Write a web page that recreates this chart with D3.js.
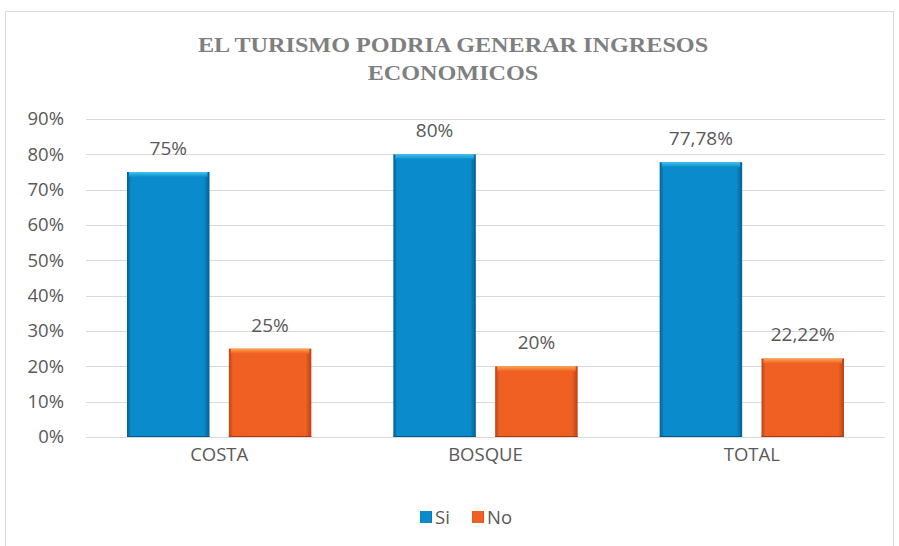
<!DOCTYPE html>
<html>
<head>
<meta charset="utf-8">
<script src="https://cdn.jsdelivr.net/npm/d3@7"></script>
<style>
  body { margin: 0; background: #fff; }
  svg { display: block; }
</style>
</head>
<body>
<div id="chart"></div>
<script>
// chart values
var categories = ['COSTA', 'BOSQUE', 'TOTAL'];
var series = ['Si', 'No'];
var siValues = [75, 80, 77.78];
var noValues = [25, 20, 22.22];
var valueLabels = [['75%', '25%'], ['80%', '20%'], ['77,78%', '22,22%']];
var yTicks = [0, 10, 20, 30, 40, 50, 60, 70, 80, 90];
var titleLines = ['EL TURISMO PODRIA GENERAR INGRESOS', 'ECONOMICOS'];

var W = 899, H = 546;
var margins = {top: 119, right: 14, bottom: 109, left: 86};
var width = W - margins.left - margins.right,
    height = H - margins.top - margins.bottom;
var labelFont = '"Open Sans", sans-serif';

var svg = d3.select('#chart').append('svg').attr('width', W).attr('height', H);

// chart frame
svg.append('rect').attr('x', 5.5).attr('y', 11.5).attr('width', 888).attr('height', 540)
  .attr('fill', 'none').attr('stroke', '#d9d9d9');

var defs = svg.append('defs');
function barGradient(id, light, mid, dark) {
  var g = defs.append('linearGradient').attr('id', id).attr('x1', 0).attr('x2', 1).attr('y1', 0).attr('y2', 0);
  g.append('stop').attr('offset', '0%').attr('stop-color', dark);
  g.append('stop').attr('offset', '5%').attr('stop-color', mid);
  g.append('stop').attr('offset', '93%').attr('stop-color', mid);
  g.append('stop').attr('offset', '100%').attr('stop-color', dark);
  var t = defs.append('linearGradient').attr('id', id + '-top').attr('x1', 0).attr('x2', 0).attr('y1', 0).attr('y2', 1);
  t.append('stop').attr('offset', '0%').attr('stop-color', light);
  t.append('stop').attr('offset', '100%').attr('stop-color', mid);
}
barGradient('g-si', '#40c4f0', '#0a8ccc', '#045f90');
barGradient('g-no', '#fba650', '#f06022', '#b8421a');
var fills = {Si: 'g-si', No: 'g-no'};

var g = svg.append('g').attr('transform', 'translate(' + margins.left + ',' + margins.top + ')');

var x0 = d3.scaleBand().domain(categories).range([0, width]);
var x1 = d3.scaleBand().domain(series).range([41, x0.bandwidth() - 41]).paddingInner(0.19);
var y = d3.scaleLinear().domain([0, 90]).range([height, 0]);

// gridlines
g.append('g').selectAll('line').data(yTicks).enter().append('line')
  .attr('x1', 0).attr('x2', width)
  .attr('y1', function(d) { return Math.round(y(d)) + 0.5; })
  .attr('y2', function(d) { return Math.round(y(d)) + 0.5; })
  .attr('stroke', '#d9d9d9').attr('stroke-width', 1);

// y axis labels
var lAxis = d3.axisLeft(y).tickValues(yTicks).tickSize(0).tickPadding(22)
  .tickFormat(function(d) { return d + '%'; });
g.append('g').call(lAxis)
  .call(function(a) { a.select('.domain').remove(); })
  .selectAll('text').attr('fill', '#595959').style('font-family', labelFont).style('font-size', '18.5px');

// x axis labels
var bAxis = d3.axisBottom(x0).tickSize(0).tickPadding(11);
g.append('g').attr('transform', 'translate(0,' + height + ')').call(bAxis)
  .call(function(a) { a.select('.domain').remove(); })
  .selectAll('text').attr('fill', '#595959').style('font-family', labelFont).style('font-size', '18.5px');

// bars
var rows = categories.map(function(c, i) {
  return [{cat: c, s: 'Si', v: siValues[i], label: valueLabels[i][0]},
          {cat: c, s: 'No', v: noValues[i], label: valueLabels[i][1]}];
});
var cats = g.selectAll('.cat').data(rows).enter().append('g')
  .attr('transform', function(d, i) { return 'translate(' + x0(categories[i]) + ',0)'; });

var bars = cats.selectAll('.bar').data(function(d) { return d; }).enter().append('g');
bars.append('rect')
  .attr('x', function(d) { return x1(d.s); })
  .attr('y', function(d) { return y(d.v); })
  .attr('width', x1.bandwidth())
  .attr('height', function(d) { return height - y(d.v); })
  .attr('fill', function(d) { return 'url(#' + fills[d.s] + ')'; });
// bevel on top
bars.append('rect')
  .attr('x', function(d) { return x1(d.s) + 2; })
  .attr('y', function(d) { return y(d.v); })
  .attr('width', x1.bandwidth() - 4)
  .attr('height', 5)
  .attr('fill', function(d) { return 'url(#' + fills[d.s] + '-top)'; });
bars.append('line')
  .attr('x1', function(d) { return x1(d.s); })
  .attr('x2', function(d) { return x1(d.s) + x1.bandwidth(); })
  .attr('y1', height - 0.5).attr('y2', height - 0.5)
  .attr('stroke', function(d) { return d.s === 'Si' ? '#035a88' : '#a83a14'; });

bars.append('text')
  .attr('x', function(d) { return x1(d.s) + x1.bandwidth() / 2; })
  .attr('y', function(d) { return y(d.v) - 17; })
  .attr('text-anchor', 'middle')
  .attr('fill', '#595959').style('font-family', labelFont).style('font-size', '19px')
  .text(function(d) { return d.label; });

// title
svg.append('text').attr('transform', 'translate(453,0) scale(1.1,1)').attr('text-anchor', 'middle')
  .attr('fill', '#7f7f7f').style('font-family', '"Liberation Serif", serif')
  .style('font-size', '22px').style('font-weight', 'bold')
  .selectAll('tspan').data(titleLines).enter().append('tspan')
  .attr('x', 0).attr('y', function(d, i) { return i ? 80 : 52; })
  .text(function(d) { return d; });

// legend
var legend = svg.append('g').attr('transform', 'translate(420,511)');
var items = legend.selectAll('g').data(series).enter().append('g')
  .attr('transform', function(d, i) { return 'translate(' + (i * 52) + ',0)'; });
items.append('rect').attr('width', 12).attr('height', 12)
  .attr('fill', function(d) { return 'url(#' + fills[d] + ')'; });
items.append('text').attr('x', 15).attr('y', 13)
  .attr('fill', '#595959').style('font-family', labelFont).style('font-size', '18.5px')
  .text(function(d) { return d; });
</script>
</body>
</html>
